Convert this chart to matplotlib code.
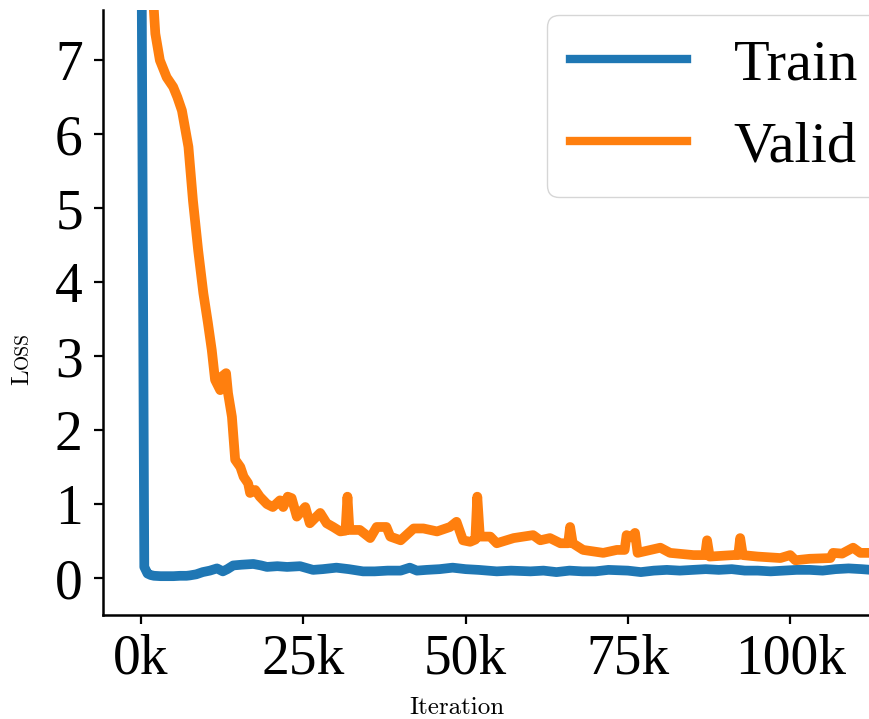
import numpy as np
import matplotlib
matplotlib.use("Agg")
import matplotlib.pyplot as plt
import matplotlib.ticker as ticker

# loss curves, iterations in thousands

train_iter = [0, 0.5, 1.0, 1.5, 2, 3, 4, 5, 6, 7,
              7.5, 8.5, 9.5, 10.6, 11.7, 12.6, 13.3, 14.2, 15.5, 17.3,
              18.5, 19.4, 21, 22.5, 24.5, 26.5, 28, 30.1, 32, 34.2,
              36, 38, 40, 41.4, 42.5, 44, 46, 48, 50, 52,
              54.8, 57, 60, 62, 64, 66, 68, 70, 72, 75,
              77, 79, 81, 83, 85, 87, 89, 91, 93, 95,
              97, 99, 101, 103, 105, 107, 109, 111, 112.5]
train_loss = [10, 0.15, 0.06, 0.04, 0.03, 0.025, 0.025, 0.025, 0.03, 0.03,
              0.035, 0.05, 0.08, 0.1, 0.13, 0.09, 0.12, 0.17, 0.18, 0.19,
              0.17, 0.15, 0.16, 0.15, 0.16, 0.11, 0.12, 0.14, 0.12, 0.09,
              0.09, 0.1, 0.1, 0.14, 0.1, 0.11, 0.12, 0.14, 0.12, 0.11,
              0.09, 0.1, 0.09, 0.1, 0.08, 0.1, 0.09, 0.09, 0.11, 0.1,
              0.08, 0.1, 0.11, 0.1, 0.11, 0.12, 0.11, 0.12, 0.1, 0.1,
              0.09, 0.1, 0.11, 0.11, 0.1, 0.12, 0.13, 0.12, 0.11]

valid_iter = [1.6, 2.2, 2.9, 3.95, 4.95, 5.6, 6.3, 7.3, 8.0, 8.8,
              9.6, 10.3, 10.9, 11.4, 12.2, 12.4, 13.1, 13.4, 14.0, 14.5,
              15.3, 15.8, 16.5, 16.8, 17.6, 18.3, 19.4, 20.3, 21.4, 21.9,
              22.6, 23.2, 24, 25.3, 26, 27.6, 28.6, 29.6, 30.7, 31.5,
              31.8, 32.1, 33.7, 35.3, 36.3, 37.8, 38.4, 40, 42, 43.5,
              45.6, 47.6, 48.6, 49.6, 50.7, 51.5, 51.8, 52.2, 53.8, 54.8,
              57.4, 60.4, 61.5, 63, 64.6, 65.8, 66.1, 66.5, 68.1, 71.2,
              73.3, 74.5, 74.8, 75.5, 76.1, 76.5, 80, 81.5, 85.1, 86.9,
              87.2, 87.6, 91.2, 92.0, 92.3, 92.7, 95, 98.5, 100, 100.8,
              103, 106.2, 106.6, 108, 109.7, 110.8, 112.5]
valid_loss = [8.2, 7.36, 7.0, 6.77, 6.64, 6.5, 6.32, 5.83, 5.1, 4.43,
              3.85, 3.45, 3.08, 2.68, 2.54, 2.72, 2.77, 2.5, 2.18, 1.6,
              1.5, 1.37, 1.28, 1.15, 1.19, 1.1, 1.0, 0.96, 1.05, 0.96,
              1.1, 1.08, 0.83, 0.96, 0.74, 0.88, 0.74, 0.69, 0.63, 0.64,
              1.1, 0.65, 0.65, 0.54, 0.69, 0.69, 0.56, 0.51, 0.67, 0.67,
              0.63, 0.69, 0.76, 0.51, 0.49, 0.52, 1.1, 0.56, 0.56, 0.47,
              0.54, 0.58, 0.51, 0.54, 0.47, 0.47, 0.69, 0.47, 0.38, 0.34,
              0.38, 0.38, 0.58, 0.55, 0.61, 0.34, 0.41, 0.34, 0.31, 0.31,
              0.51, 0.29, 0.31, 0.31, 0.54, 0.31, 0.29, 0.27, 0.31, 0.24,
              0.26, 0.27, 0.34, 0.33, 0.41, 0.34, 0.34]

xticks = [0, 25, 50, 75, 100]
yticks = [0, 1, 2, 3, 4, 5, 6, 7]

W, H = 870, 719
fig = plt.figure(figsize=(W / 100, H / 100), dpi=100)
ax = fig.add_axes([103 / W, (H - 615) / H, (870 - 103) / W, (615 - 10) / H])

ax.plot(train_iter, train_loss, color="#1f77b4", lw=7, label="Train")
ax.plot(valid_iter, valid_loss, color="#ff7f0e", lw=7, label="Valid")

ax.set_xlim(-5.86, 112.3)
ax.set_ylim(-0.5, 7.68)

ax.spines["top"].set_visible(False)
ax.spines["right"].set_visible(False)
for s in ("left", "bottom"):
    ax.spines[s].set_linewidth(1.8)

ax.set_xticks(xticks)
ax.set_yticks(yticks)
ax.xaxis.set_major_formatter(ticker.FuncFormatter(lambda v, p: "%dk" % v))
ax.tick_params(axis="both", length=6.5, width=1.6, labelsize=40)
ax.tick_params(axis="y", pad=8)
ax.tick_params(axis="x", pad=7)
for lab in ax.get_xticklabels() + ax.get_yticklabels():
    lab.set_fontfamily("Liberation Serif")

ax.set_xlabel("Iteration", fontfamily="cmr10", fontsize=18)
ax.xaxis.set_label_coords((457 - 103) / (870 - 103), -0.136)

# small-caps style "Loss"
fig.text(28 / W, (H - 385) / H, "L", fontfamily="cmr10", fontsize=18,
         rotation=90, rotation_mode="anchor", ha="left", va="baseline")
fig.text(28 / W, (H - 369) / H, "OSS", fontfamily="cmr10", fontsize=14,
         rotation=90, rotation_mode="anchor", ha="left", va="baseline")

leg = ax.legend(loc="upper left", bbox_to_anchor=(547 / W, (H - 15) / H),
                bbox_transform=fig.transFigure, borderaxespad=0,
                prop={"family": "Liberation Serif", "size": 42},
                handlelength=2.0, handletextpad=0.8)
for line in leg.get_lines():
    line.set_linewidth(6)

fig.savefig("out.png", dpi=100)
